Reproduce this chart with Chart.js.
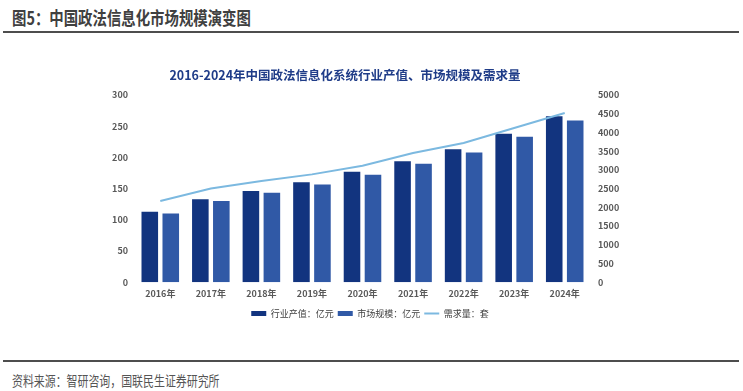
<!DOCTYPE html>
<html>
<head>
<meta charset="utf-8">
<script src="https://cdn.jsdelivr.net/npm/chart.js@4"></script>
<style>
  body { margin: 0; background: #fff; width: 743px; height: 391px; position: relative; overflow: hidden; font-family: "Noto Sans CJK SC", sans-serif; }
  .head { position: absolute; left: 12px; top: 4px; font-size: 18px; font-weight: bold; color: #404040; transform: scaleX(0.8); transform-origin: left top; white-space: nowrap; line-height: 26px; }
  .rule { position: absolute; left: 3px; width: 736px; height: 2px; background: #4d4d4d; }
  .src { position: absolute; left: 12px; top: 369px; font-size: 14px; color: #555; transform: scaleX(0.78); transform-origin: left top; white-space: nowrap; line-height: 22px; }
  .ctitle { position: absolute; left: 145px; width: 400px; top: 66px; text-align: center; font-size: 12.5px; font-weight: bold; color: #1f3c88; line-height: 18px; white-space: nowrap; }
  #wrap { position: absolute; left: 95px; top: 52px; width: 550px; height: 276px; }
</style>
</head>
<body>
<div class="head">图5：中国政法信息化市场规模演变图</div>
<div class="rule" style="top:31px"></div>
<div id="wrap"><canvas id="chart"></canvas></div>
<div class="ctitle">2016-2024年中国政法信息化系统行业产值、市场规模及需求量</div>
<div class="rule" style="top:360px"></div>
<div class="src">资料来源：智研咨询，国联民生证券研究所</div>
<script>
const years = ['2016年', '2017年', '2018年', '2019年', '2020年', '2021年', '2022年', '2023年', '2024年'];
const outputValue = [113, 133, 146, 160, 177, 194, 213, 238, 266];   // 行业产值：亿元
const marketSize = [110, 130, 143.5, 156.5, 172, 190, 208, 233, 259]; // 市场规模：亿元
const demand = [2170, 2500, 2700, 2880, 3110, 3450, 3720, 4120, 4520]; // 需求量：套

const tickFont = { family: 'Noto Sans CJK SC', size: 9, weight: 'bold' };

const ctx = document.getElementById('chart').getContext('2d');
new Chart(ctx, {
  type: 'bar',
  data: {
    labels: years,
    datasets: [
      {
        label: '行业产值：亿元',
        data: outputValue,
        backgroundColor: '#12347f',
        yAxisID: 'y',
        order: 2,
        pointStyle: 'rect'
      },
      {
        label: '市场规模：亿元',
        data: marketSize,
        backgroundColor: '#3059a6',
        yAxisID: 'y',
        order: 2,
        pointStyle: 'rect'
      },
      {
        type: 'line',
        label: '需求量：套',
        data: demand,
        borderColor: '#7cb9e0',
        backgroundColor: '#7cb9e0',
        borderWidth: 2,
        pointRadius: 0,
        tension: 0,
        yAxisID: 'y1',
        order: 1,
        pointStyle: 'line'
      }
    ]
  },
  options: {
    responsive: true,
    maintainAspectRatio: false,
    animation: false,
    layout: { padding: { top: 43 } },
    datasets: {
      bar: { categoryPercentage: 0.83, barPercentage: 0.79 }
    },
    scales: {
      x: {
        grid: { display: false, drawTicks: false },
        border: { display: false },
        ticks: { color: '#595959', font: tickFont, padding: 6 }
      },
      y: {
        position: 'left',
        min: 0, max: 300,
        grid: { display: false, drawTicks: false },
        border: { display: false },
        ticks: { stepSize: 50, color: '#595959', font: tickFont, padding: 7 },
        afterFit: function (s) { s.width = 40; }
      },
      y1: {
        position: 'right',
        min: 0, max: 5000,
        grid: { display: false, drawTicks: false },
        border: { display: false },
        ticks: {
          stepSize: 500, color: '#595959', font: tickFont, padding: 8,
          callback: function (v) { return String(v); }
        },
        afterFit: function (s) { s.width = 55; }
      }
    },
    plugins: {
      title: { display: false },
      legend: {
        position: 'bottom',
        labels: {
          usePointStyle: true,
          pointStyleWidth: 15,
          boxHeight: 5,
          padding: 4,
          color: '#404040',
          font: { family: 'Noto Sans CJK SC', size: 9 },
          sort: function (a, b) { return a.datasetIndex - b.datasetIndex; }
        }
      },
      tooltip: { enabled: false }
    }
  }
});
</script>
</body>
</html>
